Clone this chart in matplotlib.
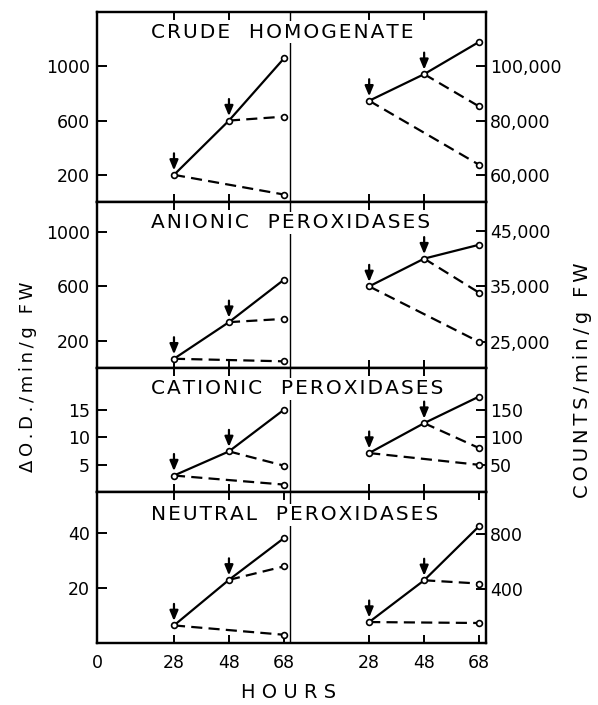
import matplotlib as mpl
import matplotlib.pyplot as plt
import numpy as np

#-------------------------------------------------------------------------------
# Data
# Sampling times (hours) used in both halves of every panel
hours = [28, 48, 68]

panel_titles = [
  "CRUDE  HOMOGENATE",
  "ANIONIC  PEROXIDASES",
  "CATIONIC  PEROXIDASES",
  "NEUTRAL  PEROXIDASES"
]

# Left half: delta O.D./min/g FW
# -> control line at 28, 48, 68 h; cut48 / cut28 = value at 68 h after treatment
od_control = [[200, 600, 1058], [68, 337, 649], [3.0, 7.4, 15.0], [6.4, 23.0, 38.2]]
od_cut48 = [629, 361, 4.8, 27.9]
od_cut28 = [55, 49, 1.35, 3.0]

# Right half: counts/min/g FW
cpm_control = [[87300, 97100, 109000], [35000, 40000, 42500], [71, 125.5, 174], [154, 461, 859]]
cpm_cut48 = [85200, 33860, 80, 437]
cpm_cut28 = [63700, 25000, 49.5, 147]

od_ticks = [[200, 600, 1000], [200, 600, 1000], [5, 10, 15], [20, 40]]
cpm_ticks = [[60000, 80000, 100000], [25000, 35000, 45000], [50, 100, 150], [400, 800]]

od_ylims = [(0, 1400), (0, 1220), (0, 22.6), (0, 55)]
cpm_ylims = [(50000, 120000), (20300, 50200), (0, 226), (0, 1110)]

#-------------------------------------------------------------------------------

FIG_W, FIG_H = 598, 705
X_MAX = 141.5     # whole panel width in "hours"
MID = 70.2        # position of the separating line
OFFSET = 71.0     # shift of the right half

def fx(px):
  return px / FIG_W

def fy(py):
  return 1.0 - py / FIG_H

def spaced(text, sep="\u2009"):
  """ Mimic the wide letter spacing of the stencil lettering.
  """
  return sep.join(list(text))

def draw_half(ax, x_vals, control, cut48, cut28):
  """ Draw one set of curves (control, and the two cuts) with arrows.
  """
  ax.plot(x_vals, control, color='k', lw=1.6, zorder=3)
  l1, = ax.plot([x_vals[1], x_vals[2]], [control[1], cut48], color='k', lw=1.6, zorder=3)
  l2, = ax.plot([x_vals[0], x_vals[2]], [control[0], cut28], color='k', lw=1.6, zorder=3)
  l1.set_dashes((5.0, 2.8))
  l2.set_dashes((5.0, 2.8))
  xs = list(x_vals) + [x_vals[2], x_vals[2]]
  ys = list(control) + [cut48, cut28]
  ax.plot(xs, ys, ls='none', marker='o', ms=4.2, mfc='white', mec='k', mew=1.2, zorder=4)
  # Arrows mark the time of treatment
  for i in range(2):
    ax.annotate("", xy=(x_vals[i], control[i]), xytext=(0, 15.5), textcoords='offset points',
                arrowprops=dict(arrowstyle='-|>,head_length=0.6,head_width=0.25',
                                color='k', lw=1.6, shrinkA=0, shrinkB=3.2), zorder=5)

def plot_figure(out_path="out.png"):
  mpl.rcParams['font.family'] = 'DejaVu Sans'
  fig = plt.figure(figsize=(FIG_W/100.0, FIG_H/100.0), dpi=100)

  left_px, right_px = 97, 486
  edges_px = [12, 202, 368, 492, 643]
  title_y_px = [32, 223, 389, 515]

  n_panels = len(panel_titles)
  for p in range(n_panels):
    top, bot = edges_px[p], edges_px[p+1]
    rect = [fx(left_px), fy(bot), fx(right_px - left_px), (bot - top) / FIG_H]
    ax = fig.add_axes(rect)
    ax2 = ax.twinx()

    ax.set_xlim(0, X_MAX)
    ax.set_ylim(*od_ylims[p])
    ax2.set_ylim(*cpm_ylims[p])

    for a in (ax, ax2):
      for s in a.spines.values():
        s.set_linewidth(1.6)
    ax.axvline(MID, color='k', lw=1.0, zorder=1)

    draw_half(ax, hours, od_control[p], od_cut48[p], od_cut28[p])
    draw_half(ax2, [h + OFFSET for h in hours], cpm_control[p], cpm_cut48[p], cpm_cut28[p])

    # y ticks
    ax.set_yticks(od_ticks[p])
    ax.set_yticklabels([str(t) for t in od_ticks[p]])
    ax2.set_yticks(cpm_ticks[p])
    ax2.set_yticklabels(["{:,}".format(t) for t in cpm_ticks[p]])
    ax.tick_params(axis='y', direction='in', length=7, width=1.4, labelsize=12.5, pad=5)
    ax2.tick_params(axis='y', direction='in', length=7, width=1.4, labelsize=12.5, pad=3)

    # x ticks
    if p == n_panels - 1:
      xt = [0, 28, 48, 68, 28 + OFFSET, 48 + OFFSET, 68 + OFFSET]
      xl = ["0", "28", "48", "68", "28", "48", "68"]
      ax.set_xticks(xt)
      ax.set_xticklabels(xl)
      ax.tick_params(axis='x', direction='in', length=6, width=1.4, top=True,
                     labelsize=12.5, pad=8)
    else:
      ax.set_xticks([28, 48, 28 + OFFSET, 48 + OFFSET])
      ax.tick_params(axis='x', direction='in', length=6, width=1.4, top=True,
                     labelbottom=False)

    trans = mpl.transforms.blended_transform_factory(ax.transData, fig.transFigure)
    ax2.text(19.6, fy(title_y_px[p]), spaced(panel_titles[p], "\u200a"), fontsize=14.5,
             ha='left', va='center', transform=trans, zorder=10,
             bbox=dict(facecolor='white', edgecolor='none', pad=1.0))

  fig.text(fx(28), fy(377), spaced("ΔO.D./min/g FW"), rotation=90, ha='center', va='center', fontsize=13)
  fig.text(fx(583), fy(380), spaced("COUNTS/min/g FW"), rotation=90, ha='center', va='center', fontsize=14)
  fig.text(fx(289), fy(693), "H O U R S", ha='center', va='center', fontsize=14)

  fig.savefig(out_path, dpi=100)
  plt.close(fig)

#-------------------------------------------------------------------------------

def main():
  plot_figure("out.png")

if __name__ == "__main__":
  main()
